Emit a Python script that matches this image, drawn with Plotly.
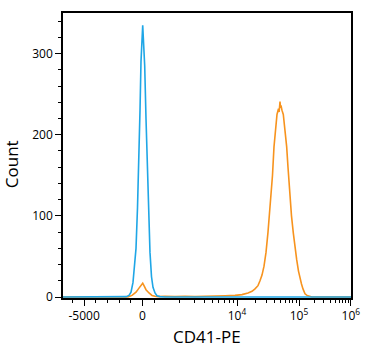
import numpy as np
import plotly.graph_objects as go

# ---- data (x in display channels 0..1024, y = counts) ----
blue_ch = [0, 202.7, 224, 234.7, 241.8, 248.9, 254.2, 259.6, 264.9, 270.2, 273.8, 277.3, 282, 283.4,
           285.5, 290.5, 295.1, 298.7, 304, 309.3, 314.7, 320, 327.1, 334.2, 344.9, 362.7, 1024]
blue_cnt = [0, 0, 0.5, 2, 6, 18, 35, 60, 110, 170, 230, 290, 330, 335,
            320, 285, 220, 170, 110, 55, 25, 12, 5, 1.5, 0.5, 0, 0]

orange_ch = [0, 220.4, 231.1, 245.3, 259.6, 270.2, 279.1, 283.4, 288, 295.1, 305.8, 316.4, 327.1, 337.8,
             362.7, 398.2, 433.8, 469.3, 504.9, 540.4, 576, 611.6, 636.4, 657.8, 672, 682.7, 693.3,
             700.4, 707.6, 714.7, 721.8, 728.9, 734.2, 739.6, 744.9, 750.2, 755.6, 760.9, 766.2,
             768.5, 771.6, 773.5, 775.1, 778.7, 783.3, 789.3, 795.3, 800, 803.6, 807.1, 812.4,
             818.8, 824.9, 830.9, 837.3, 842.7, 848, 853.3, 860.4, 867.6, 874.7, 885.3, 1024]
orange_cnt = [0, 0, 0, 2, 6, 11, 15, 17, 14, 9, 5, 2, 1, 0.5,
              1, 0.5, 1, 0.5, 1, 1, 1.5, 2, 3, 5, 7, 10, 14,
              20, 27, 38, 55, 80, 100, 125, 150, 185, 210, 225, 232,
              228, 241, 233, 236, 230, 225, 205, 185, 160, 140, 124, 100,
              79, 60, 46, 32, 22, 16, 10, 4, 2, 1, 0, 0]

major_vals = [-5000, 0, 1e4, 1e5, 1e6]
major_text = ["-5000", "0", "10<sup>4</sup>", "10<sup>5</sup>", "10<sup>6</sup>"]
minor_vals = ([-6000, -4000, -3000, -2000, -1000] + [k * 1000 for k in range(1, 10)]
              + [k * 1e4 for k in range(2, 10)] + [k * 1e5 for k in range(2, 10)])


def to_ch(v):
    """biexponential-like display transform (raw value -> channel)"""
    if v <= 0:
        return 282.7 + v * (282.7 / 6810.0)
    if v < 1e3:
        return 282.7 + (327 - 282.7) * v / 1e3
    return float(np.interp(np.log10(v), [3, 4, 5, 6], [327, 618.7, 839.1, 1023.6]))


fig = go.Figure()
fig.add_trace(go.Scatter(x=orange_ch, y=orange_cnt, mode="lines",
                         line=dict(color="#f7931e", width=1.6), showlegend=False))
fig.add_trace(go.Scatter(x=blue_ch, y=blue_cnt, mode="lines",
                         line=dict(color="#1fa6e6", width=1.6), showlegend=False))

font = "Open Sans, Liberation Sans, sans-serif"
fig.update_layout(
    width=380, height=350,
    margin=dict(l=63, r=29, t=11, b=52),
    plot_bgcolor="white", paper_bgcolor="white",
    font=dict(family=font, color="black", size=12),
    xaxis=dict(range=[0, 1024], showgrid=False, zeroline=False,
               showline=True, linecolor="black", linewidth=1.5, mirror=True,
               ticks="outside", ticklen=6, tickwidth=1.2, tickcolor="black",
               tickmode="array", tickvals=[to_ch(v) for v in major_vals], ticktext=major_text,
               minor=dict(tickmode="array", tickvals=[to_ch(v) for v in minor_vals],
                          ticklen=3, tickwidth=1, tickcolor="black"),
               layer="below traces", tickfont=dict(size=12)),
    yaxis=dict(range=[-1.2, 350], showgrid=False, zeroline=False,
               showline=True, linecolor="black", linewidth=1.5, mirror=True,
               ticks="outside", ticklen=6, tickwidth=1.2, tickcolor="black",
               tickmode="array", tickvals=[0, 100, 200, 300],
               minor=dict(tickmode="array",
                          tickvals=[v for v in range(20, 350, 20) if v % 100 != 0],
                          ticklen=3, tickwidth=1, tickcolor="black"),
               layer="below traces", tickfont=dict(size=12)),
    annotations=[
        dict(text="CD41-PE", xref="paper", yref="paper", x=0.5, y=-0.135,
             xanchor="center", yanchor="middle", showarrow=False, font=dict(size=17)),
        dict(text="Count", xref="paper", yref="paper", x=-0.18, y=0.47, textangle=-90,
             xanchor="center", yanchor="middle", showarrow=False, font=dict(size=17)),
    ],
)

fig.write_html("out.html")
